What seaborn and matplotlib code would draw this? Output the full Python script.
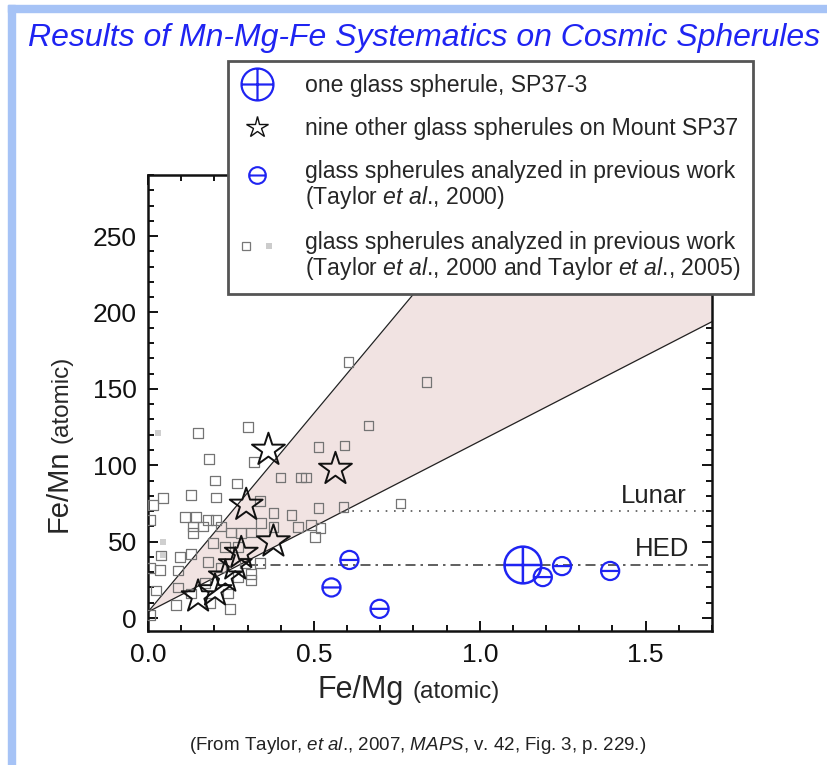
import numpy as np
import pandas as pd
import matplotlib
matplotlib.use('Agg')
import matplotlib.pyplot as plt
import seaborn as sns
from matplotlib.path import Path
from matplotlib.lines import Line2D
from matplotlib.patches import Rectangle
from matplotlib.legend_handler import HandlerTuple, HandlerLine2D
from matplotlib.ticker import MultipleLocator

# ---- data (Fe/Mg, Fe/Mn atomic) ----
sp37_3_femg = [1.13]
sp37_3_femn = [34.7]

star_femg = [0.363, 0.565, 0.296, 0.378, 0.281, 0.263, 0.233, 0.202, 0.151]
star_femn = [110, 97.5, 74, 50, 42.5, 35, 27, 18, 14]

t2000_femg = [0.607, 0.553, 0.698, 1.19, 1.248, 1.393]
t2000_femn = [38, 20, 6, 26.8, 34, 30.8]

sq_femg = [0.84, 0.302, 0.151, 0.665, 0.514, 0.592, 0.184, 0.32, 0.202, 0.269,
           0.399, 0.462, 0.477, 0.13, 0.205, 0.045, 0.015, 0.338, 0.514, 0.589,
           0.761, 0.006, 0.112, 0.145, 0.181, 0.136, 0.166, 0.205, 0.22, 0.136,
           0.378, 0.432, 0.453, 0.492, 0.52, 0.504, 0.341, 0.378, 0.25, 0.28,
           0.31, 0.196, 0.233, 0.272, 0.04, 0.097, 0.13, 0.181, 0.006, 0.036,
           0.09, 0.22, 0.293, 0.338, 0.311, 0.272, 0.024, 0.09, 0.172, 0.13,
           0.242, 0.248, 0.187, 0.085, 0.006, 0.311, 0.604]
sq_femn = [154.5, 125, 121, 126, 112, 113, 104, 102, 90, 88,
           92, 92, 92, 80.5, 79, 78.5, 74, 76.6, 72, 72.6,
           75, 64, 66, 66, 64, 60, 60, 64, 60, 55.6,
           68.7, 67.4, 59.6, 60.9, 58.9, 53, 62, 59.6, 56, 55.6,
           56, 49, 46.5, 46.5, 41, 40, 42, 36.6, 32.7, 31.4,
           31, 33, 36, 36, 29, 27, 18, 20, 23, 16,
           16, 6, 10, 8.5, 2, 25, 167.5]

# faint filled squares
light_femg = [0.03, 0.045, 0.045]
light_femn = [121, 50, 41]

# chondritic wedge (two lines from near the origin)
wedge_femg = [0.0, 1.7]
wedge_upper = [4, 446]
wedge_lower = [4, 194]

lunar_femg = [0.59, 1.7]
lunar_femn = [70, 70]
hed_femg = [0.30, 1.7]
hed_femn = [35, 35]

blue = '#1f24f2'


class HandlerShift(HandlerLine2D):
    # moves a legend marker up so it sits on the first line of a two-line label
    def __init__(self, dy, **kw):
        super().__init__(**kw)
        self.dy = dy

    def create_artists(self, legend, orig_handle, xdescent, ydescent, width, height, fontsize, trans):
        artists = super().create_artists(legend, orig_handle, xdescent, ydescent,
                                         width, height, fontsize, trans)
        for a in artists:
            a.set_ydata(np.asarray(a.get_ydata()) + self.dy)
        return artists


sns.set_style('ticks')
plt.rcParams['font.family'] = ['Liberation Sans', 'DejaVu Sans']
plt.rcParams['mathtext.fontset'] = 'custom'
plt.rcParams['mathtext.rm'] = 'Liberation Sans'
plt.rcParams['mathtext.it'] = 'Liberation Sans:italic'

W, H = 827, 765
fig = plt.figure(figsize=(W / 100, H / 100), dpi=100)

# light blue page frame (left + top)
fig.patches.append(Rectangle((8 / W, 0), 7 / W, 1 - 5 / H, transform=fig.transFigure,
                             color='#a6c3f6', zorder=0))
fig.patches.append(Rectangle((8 / W, 1 - 12 / H), 1 - 8 / W, 7 / H, transform=fig.transFigure,
                             color='#a6c3f6', zorder=0))

ax = fig.add_axes([148 / W, 1 - 631 / H, (712 - 148) / W, (631 - 175) / H])

# wedge
ax.fill_between(wedge_femg, wedge_lower, wedge_upper, color='#f1e3e2', lw=0, zorder=1)
ax.plot(wedge_femg, wedge_upper, color='#222222', lw=0.9, zorder=2)
ax.plot(wedge_femg, wedge_lower, color='#222222', lw=0.9, zorder=2)

# Lunar / HED reference lines
ax.plot(lunar_femg, lunar_femn, color='#555555', lw=1.2, ls=(0, (1, 4)), zorder=2)
ax.plot(hed_femg, hed_femn, color='#444444', lw=1.2, ls=(0, (6, 3, 1.5, 3)), zorder=2)
ax.text(1.625, 75, 'Lunar', ha='right', va='baseline', fontsize=18.5, color='#222222')
ax.text(1.63, 40.6, 'HED', ha='right', va='baseline', fontsize=18.5, color='#222222')

# markers
circ = Path.unit_circle()
hline = Path([(-1, 0), (1, 0)], [Path.MOVETO, Path.LINETO])
vline = Path([(0, -1), (0, 1)], [Path.MOVETO, Path.LINETO])
cross_marker = Path.make_compound_path(circ, hline, vline)
theta_marker = Path.make_compound_path(circ, hline)

sq_df = pd.DataFrame({'femg': sq_femg, 'femn': sq_femn})
sns.scatterplot(data=sq_df, x='femg', y='femn', marker='s', s=48, color='#747474',
                facecolor='none', edgecolor='#747474', linewidth=0.9, zorder=3, ax=ax)
sns.scatterplot(x=light_femg, y=light_femn, marker='s', s=22, color='#cfcfcf',
                edgecolor='#cfcfcf', linewidth=0, zorder=3, ax=ax)
sns.scatterplot(x=star_femg, y=star_femn, marker='*', s=620, color='#111111',
                facecolor='none', edgecolor='#111111', linewidth=1.4, zorder=4, ax=ax)
sns.scatterplot(x=t2000_femg, y=t2000_femn, marker=theta_marker, s=170, color=blue,
                facecolor='none', edgecolor=blue, linewidth=1.6, zorder=5, ax=ax)
sns.scatterplot(x=sp37_3_femg, y=sp37_3_femn, marker=cross_marker, s=700, color=blue,
                facecolor='none', edgecolor=blue, linewidth=1.8, zorder=6, ax=ax)

# axes styling
ax.set_xlim(0, 1.7)
ax.set_ylim(-8.5, 290)
ax.xaxis.set_major_locator(MultipleLocator(0.5))
ax.xaxis.set_minor_locator(MultipleLocator(0.1))
ax.yaxis.set_major_locator(MultipleLocator(50))
ax.yaxis.set_minor_locator(MultipleLocator(10))
ax.xaxis.set_major_formatter(plt.FormatStrFormatter('%.1f'))
ax.tick_params(which='both', direction='in', top=True, right=True, width=1.4,
               labelsize=19, colors='#111111')
ax.tick_params(which='major', length=7)
ax.tick_params(which='minor', length=4)
ax.tick_params(axis='x', pad=9)
ax.tick_params(axis='y', pad=8)
for sp in ax.spines.values():
    sp.set_linewidth(1.8)
    sp.set_color('#111111')
ax.set_xlabel('')
ax.set_ylabel('')

# axis labels: big ratio + small "(atomic)"
fig.text(318 / W, 1 - 698 / H, 'Fe/Mg', fontsize=22, ha='left', va='baseline')
fig.text(413 / W, 1 - 698 / H, '(atomic)', fontsize=17.5, ha='left', va='baseline')
fig.text(67 / W, 1 - 532 / H, 'Fe/Mn', fontsize=21, rotation=90, rotation_mode='anchor',
         ha='left', va='baseline')
fig.text(67 / W, 1 - 443 / H, '(atomic)', fontsize=17.5, rotation=90, rotation_mode='anchor',
         ha='left', va='baseline')

# title and source line
fig.text(28 / W, 1 - 38 / H, 'Results of Mn-Mg-Fe Systematics on Cosmic Spherules',
         fontsize=23, style='italic', color=blue, ha='left', va='center')
fig.text(418 / W, 1 - 746 / H,
         '(From Taylor, $\\mathit{et\\ al}$., 2007, $\\mathit{MAPS}$, v. 42, Fig. 3, p. 229.)',
         fontsize=13.5, ha='center', va='center', color='#222222')

# legend
leg_fs = 16.6
line_step = 1.03
h_cross = Line2D([], [], ls='none', marker=cross_marker, ms=23, mfc='none', mec=blue, mew=1.6)
h_star = Line2D([], [], ls='none', marker='*', ms=16, mfc='none', mec='#111111', mew=1.0)
h_theta = Line2D([], [], ls='none', marker=theta_marker, ms=12, mfc='none', mec=blue, mew=1.5)
h_sq1 = Line2D([], [], ls='none', marker='s', ms=5.5, mfc='none', mec='#777777', mew=0.9)
h_sq2 = Line2D([], [], ls='none', marker='s', ms=4.5, mfc='#cccccc', mec='#cccccc', mew=0)
labels = ['one glass spherule, SP37-3',
          'nine other glass spherules on Mount SP37',
          'glass spherules analyzed in previous work\n(Taylor $\\mathit{et\\ al}$., 2000)',
          'glass spherules analyzed in previous work\n(Taylor $\\mathit{et\\ al}$., 2000 and Taylor $\\mathit{et\\ al}$., 2005)']
shift = 0.5 * line_step * leg_fs
leg = ax.legend([h_cross, h_star, h_theta, (h_sq1, h_sq2)], labels,
                loc='upper left', bbox_to_anchor=(228 / W, 1 - 61 / H),
                bbox_transform=fig.transFigure, borderaxespad=0,
                frameon=True, fancybox=False, framealpha=1, edgecolor='#555555',
                fontsize=leg_fs, handlelength=1.45, handletextpad=1.35, borderpad=0.55,
                labelspacing=0.88,
                handler_map={tuple: HandlerTuple(ndivide=None, pad=0.5),
                             h_theta: HandlerShift(shift),
                             h_sq1: HandlerShift(shift),
                             h_sq2: HandlerShift(shift)})
for t in leg.get_texts():
    t.set_linespacing(line_step)
leg.get_frame().set_linewidth(2)
leg.set_zorder(10)

fig.savefig('out.png', dpi=100)
